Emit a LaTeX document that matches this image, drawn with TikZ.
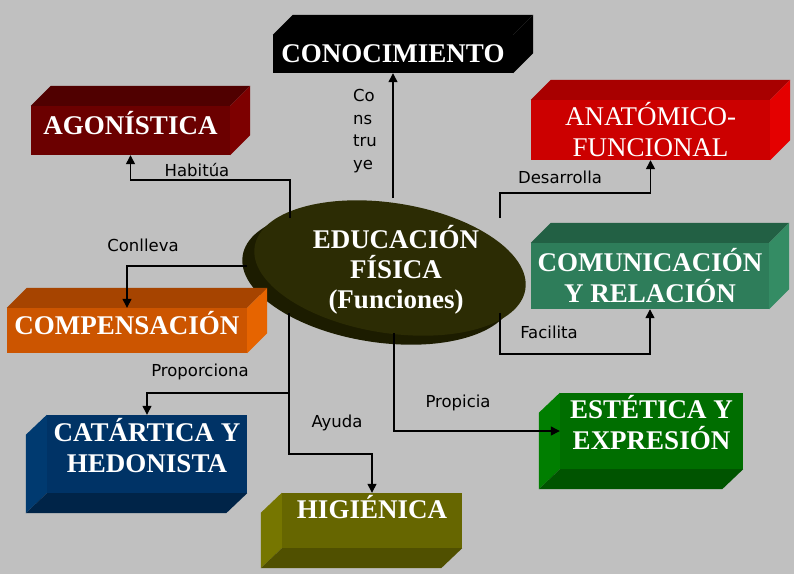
\documentclass[tikz,border=0pt]{standalone}
\usepackage{fontspec}
\setmainfont{Liberation Serif}
\newfontfamily\etiqfont{DejaVu Sans}
\usepackage{tikz}
\usetikzlibrary{
  shapes.geometric,
  arrows.meta
}
\definecolor{fondocolor}{RGB}{192, 192, 192}
\definecolor{educolor}{RGB}{44, 44, 4}
\definecolor{edurimcolor}{RGB}{28, 28, 0}
\definecolor{agonfront}{RGB}{107, 0, 0}
\definecolor{agontop}{RGB}{80, 0, 0}
\definecolor{agonside}{RGB}{125, 0, 0}
\definecolor{anatfront}{RGB}{204, 0, 0}
\definecolor{anattop}{RGB}{168, 0, 0}
\definecolor{anatside}{RGB}{228, 0, 0}
\definecolor{comufront}{RGB}{46, 125, 90}
\definecolor{comutop}{RGB}{34, 96, 68}
\definecolor{comuside}{RGB}{52, 140, 100}
\definecolor{compfront}{RGB}{204, 85, 0}
\definecolor{comptop}{RGB}{166, 68, 0}
\definecolor{compside}{RGB}{230, 100, 0}
\definecolor{catafront}{RGB}{0, 51, 102}
\definecolor{cataside}{RGB}{0, 58, 112}
\definecolor{catabottom}{RGB}{0, 36, 72}
\definecolor{higifront}{RGB}{102, 102, 0}
\definecolor{higiside}{RGB}{118, 118, 0}
\definecolor{higibottom}{RGB}{80, 80, 0}
\definecolor{estefront}{RGB}{0, 110, 0}
\definecolor{esteside}{RGB}{0, 126, 0}
\definecolor{estebottom}{RGB}{0, 84, 0}
\tikzset{
cajatexto/.style={
  align=center,
  font=\fontsize{27}{31}\selectfont\bfseries,
  text=white
},
caja/.style={
  rectangle,
  inner sep=0pt,
  cajatexto
},
etiqueta/.style={
  font=\etiqfont\fontsize{16.5}{22.5}\selectfont,
  text=black,
  inner sep=0pt
},
conector/.style={
  -{Triangle[length=9pt,width=9pt]},
  line width=1.3pt,
  draw=black
}
}
% caras en relieve: arriba-derecha y abajo-izquierda
\newcommand{\relieveAD}[3]{%
  \fill[#2] (#1.north west) -- ++(20,-20) -- ([shift={(20,-20)}]#1.north east) -- (#1.north east) -- cycle;
  \fill[#3] (#1.north east) -- ++(20,-20) -- ([shift={(20,-20)}]#1.south east) -- (#1.south east) -- cycle;
}
\newcommand{\relieveAI}[3]{%
  \fill[#2] (#1.north west) -- ++(-21,20) -- ([shift={(-21,20)}]#1.south west) -- (#1.south west) -- cycle;
  \fill[#3] (#1.south west) -- ++(-21,20) -- ([shift={(-21,20)}]#1.south east) -- (#1.south east) -- cycle;
}

\begin{document}
\begin{tikzpicture}[x=1pt,y=-1pt]
  \fill[fondocolor] (0,0) rectangle (794,574);
  \useasboundingbox (0,0) rectangle (794,574);

  % centro
  \node[ellipse, fill=edurimcolor, minimum width=274pt, minimum height=130pt, inner sep=0pt, rotate=-9] (edurim) at (378,277) {};
  \node[ellipse, fill=educolor, minimum width=274pt, minimum height=130pt, inner sep=0pt, rotate=-9] (edu) at (390,268) {};
  \node[cajatexto, font=\fontsize{27}{30}\selectfont\bfseries] (edutxt) at (396,270) {EDUCACIÓN\\FÍSICA\\(Funciones)};

  % cajas
  \node[caja, fill=black, minimum width=240pt, minimum height=38pt] (cono) at (393,54) {CONOCIMIENTO};
  \relieveAD{cono}{black}{black}
  \node[caja, fill=agonfront, minimum width=199pt, minimum height=49pt, text depth=16pt] (agon) at (130.5,130.5) {AGONÍSTICA};
  \relieveAD{agon}{agontop}{agonside}
  \node[caja, fill=anatfront, font=\fontsize{27}{31}\selectfont, minimum width=239pt, minimum height=60pt] (anat) at (650.5,130) {ANATÓMICO-\\FUNCIONAL};
  \relieveAD{anat}{anattop}{anatside}
  \node[caja, fill=comufront, minimum width=238pt, minimum height=66pt] (comu) at (650,276) {COMUNICACIÓN\\Y RELACIÓN};
  \relieveAD{comu}{comutop}{comuside}
  \node[caja, fill=compfront, minimum width=240pt, minimum height=45pt, text depth=16pt] (comp) at (127,330.5) {COMPENSACIÓN};
  \relieveAD{comp}{comptop}{compside}
  \node[caja, fill=catafront, minimum width=200pt, minimum height=78pt, text depth=18pt] (cata) at (147,454) {CATÁRTICA Y\\HEDONISTA};
  \relieveAI{cata}{cataside}{catabottom}
  \node[caja, fill=higifront, minimum width=180pt, minimum height=55pt, text depth=28pt] (higi) at (372,520.5) {HIGIÉNICA};
  \relieveAI{higi}{higiside}{higibottom}
  \node[caja, fill=estefront, minimum width=183pt, minimum height=76pt, text depth=18pt] (este) at (651.5,431) {ESTÉTICA Y\\EXPRESIÓN};
  \relieveAI{este}{esteside}{estebottom}

  % salidas desde el centro
  \coordinate (sHab) at (290,218);
  \coordinate (sCons) at (393,198);
  \coordinate (sDes) at (500,218);
  \coordinate (sFac) at (500,313);
  \coordinate (sConl) at (247,266);
  \coordinate (sProp) at (289,313);
  \coordinate (sPropi) at (394,333);

  \draw[conector] (sHab) -- ++(0,-38) -| (agon.south);
  \draw[conector] (sCons) -- (sCons |- cono.south);
  \draw[conector] (sDes) -- ++(0,-25) -| (anat.south);
  \draw[conector] (sFac) -- ++(0,41) -| (comu.south);
  \draw[conector] (sConl) -| (comp.north);
  \draw[conector] (sProp) -- ++(0,80) -| (cata.north);
  \draw[conector] (sProp) -- ++(0,141) -| (higi.north);
  \draw[conector] (sPropi) |- (este.west);

  % etiquetas
  \node[etiqueta] (lHab) at (197,170) {Habitúa};
  \node[etiqueta, align=left, anchor=west] (lCons) at (353,131) {Co\\ns\\tru\\ye};
  \node[etiqueta] (lDes) at (560,177) {Desarrolla};
  \node[etiqueta] (lFac) at (549,332) {Facilita};
  \node[etiqueta] (lConl) at (143,245) {Conlleva};
  \node[etiqueta] (lProp) at (200,372) {Proporciona};
  \node[etiqueta] (lAyu) at (337,423) {Ayuda};
  \node[etiqueta] (lPropi) at (458,403) {Propicia};
\end{tikzpicture}
\end{document}
